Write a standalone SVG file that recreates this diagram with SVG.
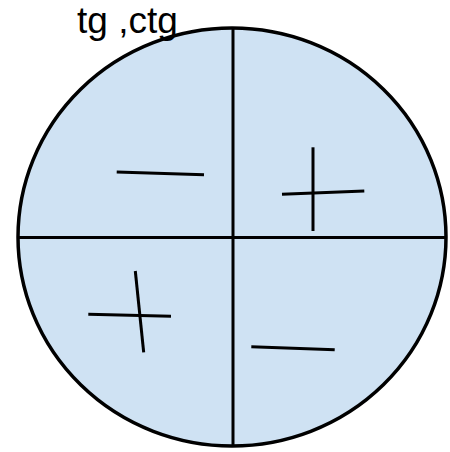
<svg xmlns="http://www.w3.org/2000/svg" width="450" height="452" viewBox="0 0 450 452">
<style>
.ln{stroke:#000;stroke-width:3;fill:none}
.lbl{font-family:"Liberation Sans",Arial,sans-serif;font-size:37px;fill:#000}
</style>
<rect width="450" height="452" fill="#fff"/>
<g id="circle">
<ellipse cx="232" cy="237" rx="214" ry="209" fill="#cfe2f3" stroke="#000" stroke-width="3.5"/>
</g>
<g id="axes">
<line class="ln" x1="233" y1="28" x2="233" y2="446"/>
<line class="ln" x1="18" y1="237.5" x2="446" y2="237.5"/>
</g>
<g id="signs">
<line class="ln" x1="116.7" y1="172" x2="204" y2="174.7"/>
<line class="ln" x1="313" y1="147.3" x2="313" y2="231"/>
<line class="ln" x1="282" y1="194.3" x2="364.3" y2="191"/>
<line class="ln" x1="88.3" y1="314.3" x2="171" y2="316.3"/>
<line class="ln" x1="135.3" y1="271" x2="143.7" y2="352.3"/>
<line class="ln" x1="251.3" y1="346.7" x2="334.7" y2="349.7"/>
</g>
<g id="label">
<text class="lbl" x="77" y="33">tg ,ctg</text>
</g>
</svg>
